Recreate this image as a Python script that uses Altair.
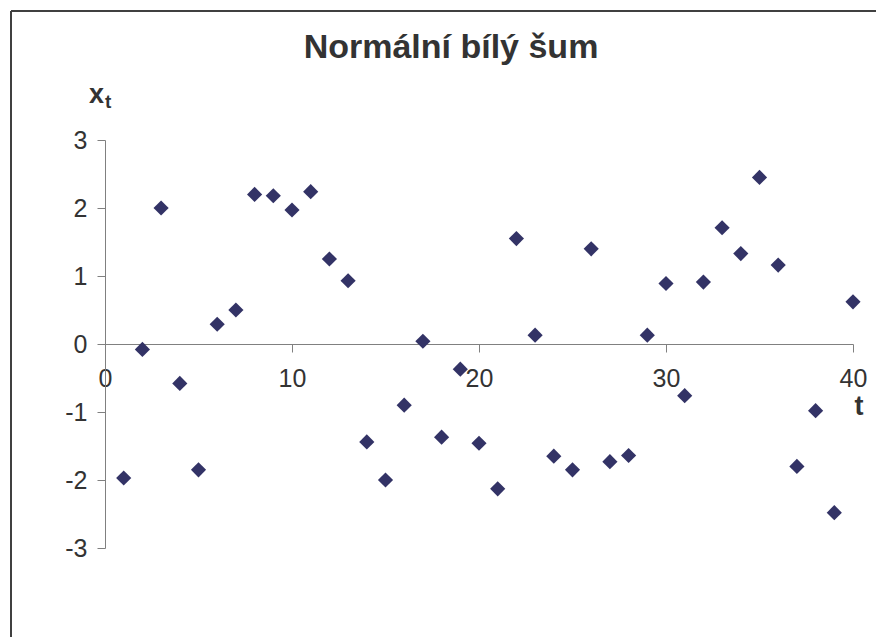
import altair as alt
import pandas as pd

t_values = list(range(1, 41))
x_values = [-1.97, -0.08, 2.00, -0.58, -1.85, 0.29, 0.50, 2.20, 2.18, 1.97,
            2.24, 1.25, 0.93, -1.44, -2.00, -0.90, 0.04, -1.37, -0.37, -1.46,
            -2.13, 1.55, 0.13, -1.65, -1.85, 1.40, -1.73, -1.64, 0.13, 0.89,
            -0.76, 0.91, 1.71, 1.33, 2.45, 1.16, -1.80, -0.98, -2.48, 0.62]
x_ticks = [0, 10, 20, 30, 40]
y_ticks = [-3, -2, -1, 0, 1, 2, 3]
title_text = "Normální bílý šum"

df = pd.DataFrame({"t": t_values, "x": x_values})
FONT = "Liberation Sans"
AX = "#808080"
TXT = "#333333"

points = alt.Chart(df).mark_point(
    shape="diamond", filled=True, size=230, color="#333366", opacity=1
).encode(
    x=alt.X("t:Q", scale=alt.Scale(domain=[0, 40], nice=False, zero=False),
            axis=alt.Axis(values=x_ticks, title=None, grid=False, offset=-204,
                          tickSize=8, domainColor=AX, tickColor=AX,
                          labelFontSize=25, labelFont=FONT, labelColor=TXT,
                          labelPadding=14, labelFlush=False)),
    y=alt.Y("x:Q", scale=alt.Scale(domain=[-3, 3], nice=False),
            axis=alt.Axis(values=y_ticks, title=None, grid=False,
                          tickSize=8, domainColor=AX, tickColor=AX,
                          labelFontSize=25, labelFont=FONT, labelColor=TXT,
                          labelPadding=10,
                          labelExpr="replace(datum.label, '\u2212', '-')")),
)

frame_top = alt.Chart(df).mark_rule(color="#404040", strokeWidth=1.5).encode(
    x=alt.value(-94), x2=alt.value(771), y=alt.value(-129))
frame_left = alt.Chart(df).mark_rule(color="#404040", strokeWidth=1.5).encode(
    x=alt.value(-94), y=alt.value(-129), y2=alt.value(497))

title = alt.Chart(pd.DataFrame({"s": [title_text]})).mark_text(
    font=FONT, fontSize=34, fontWeight="bold", color=TXT, align="center",
    baseline="alphabetic"
).encode(text="s:N", x=alt.value(346), y=alt.value(-82))

ylab_x = alt.Chart(pd.DataFrame({"s": ["x"]})).mark_text(
    font=FONT, fontSize=27, fontWeight="bold", color=TXT, align="left",
    baseline="alphabetic"
).encode(text="s:N", x=alt.value(-16), y=alt.value(-37))
ylab_t = alt.Chart(pd.DataFrame({"s": ["t"]})).mark_text(
    font=FONT, fontSize=19, fontWeight="bold", color=TXT, align="left",
    baseline="alphabetic"
).encode(text="s:N", x=alt.value(0), y=alt.value(-32))
xlab_t = alt.Chart(pd.DataFrame({"s": ["t"]})).mark_text(
    font=FONT, fontSize=27, fontWeight="bold", color=TXT, align="center",
    baseline="alphabetic"
).encode(text="s:N", x=alt.value(754), y=alt.value(275))

chart = alt.layer(frame_top, frame_left, points, title, ylab_x, ylab_t, xlab_t).properties(
    width=748, height=408,
    autosize=alt.AutoSizeParams(type="none"),
    padding={"left": 105, "top": 140, "right": 23, "bottom": 89},
    background="white",
).configure_view(stroke=None)

chart.save("out.html", embed_options={"renderer": "svg", "actions": False})
